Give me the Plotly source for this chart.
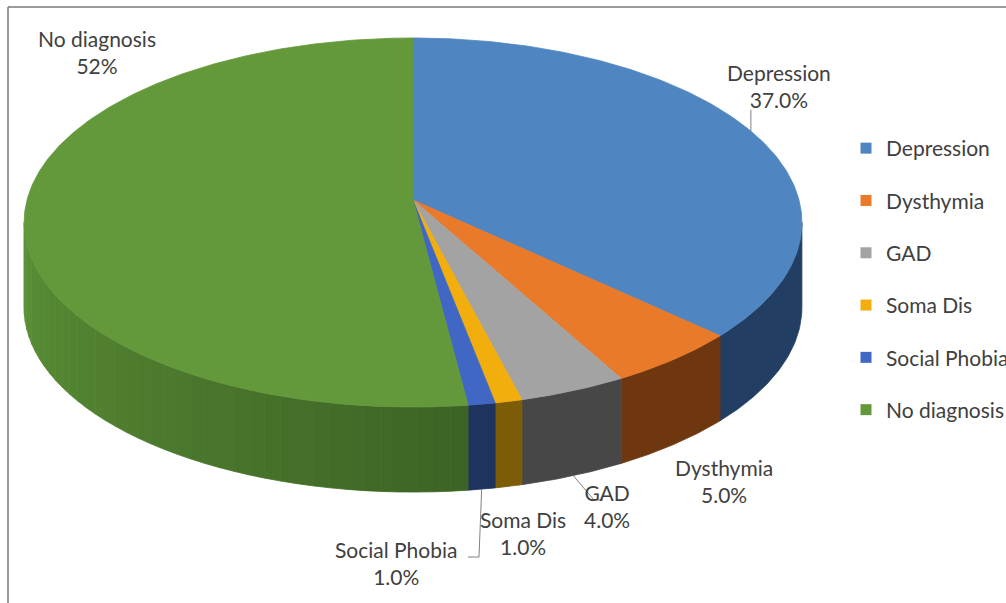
import numpy as np
import plotly.graph_objects as go

# ---------------- data ----------------
categories = ["Depression", "Dysthymia", "GAD", "Soma Dis", "Social Phobia", "No diagnosis"]
values = [37.0, 5.0, 4.0, 1.0, 1.0, 52.0]
pct_labels = ["37.0%", "5.0%", "4.0%", "1.0%", "1.0%", "52%"]

# ---------------- styles ----------------
top_colors = ["#4F85C0", "#E97A2A", "#A3A3A3", "#F2AE0C", "#3F67C3", "#64993B"]
side_colors = ["#223F63", "#6E3710", "#474747", "#7D5C08", "#1F335F", "#4B7A2D"]
green_side_grad = ("#5C9237", "#3C6324")
FONT = "Lato"
TXT = "#404040"

# pie geometry (pixel space, perspective-tilted)
CX, CY = 413, 200
A, B, K = 386, 181.8, 0.122
DEPTH = 85

# label placement (block centres) and leader elbows
label_pos = {
    "Depression": (779, 86),
    "Dysthymia": (724, 481),
    "GAD": (607, 506),
    "Soma Dis": (523, 533),
    "Social Phobia": (396, 563),
    "No diagnosis": (97, 52),
}
leaders = {
    "Depression": ("top", [(None, 110)]),
    "GAD": ("side", [(594, 500), (603, 500)]),
    "Social Phobia": ("side", [(479, 557), (468, 557)]),
}


def proj(theta_deg, drop=0.0):
    t = np.radians(np.asarray(theta_deg, dtype=float))
    u, v = np.sin(t), np.cos(t)
    w = 1 + K * v
    return CX + A * u / w, CY - B * v / w + drop


def hex2rgb(h):
    h = h.lstrip("#")
    return np.array([int(h[i:i + 2], 16) for i in (0, 2, 4)], dtype=float)


def mix(c1, c2, f):
    c = hex2rgb(c1) * (1 - f) + hex2rgb(c2) * f
    return "rgb(%d,%d,%d)" % tuple(c.round().astype(int))


total = float(sum(values))
bounds = np.concatenate([[0.0], np.cumsum(values)]) / total * 360.0
vis_lo = np.degrees(np.arccos(-K))
vis_hi = 360.0 - vis_lo

fig = go.Figure()


def add_poly(xs, ys, color):
    fig.add_trace(go.Scatter(
        x=list(xs) + [xs[0]], y=list(ys) + [ys[0]], mode="lines", fill="toself",
        fillcolor=color, line=dict(color=color, width=0.8),
        showlegend=False, hoverinfo="skip"))


# side walls (front, visible part only)
for i, cat in enumerate(categories):
    a, b = max(bounds[i], vis_lo), min(bounds[i + 1], vis_hi)
    if b <= a:
        continue
    if cat == "No diagnosis":
        n = 40
        edges = np.linspace(a, b, n + 1)
        for j in range(n):
            ts = np.linspace(edges[j], edges[j + 1], 4)
            xt, yt = proj(ts)
            xb, yb = proj(ts[::-1], DEPTH)
            f = 1 - (j + 0.5) / n
            add_poly(np.r_[xt, xb], np.r_[yt, yb], mix(green_side_grad[0], green_side_grad[1], f))
    else:
        ts = np.linspace(a, b, 60)
        xt, yt = proj(ts)
        xb, yb = proj(ts[::-1], DEPTH)
        add_poly(np.r_[xt, xb], np.r_[yt, yb], side_colors[i])

# top faces
for i, cat in enumerate(categories):
    ts = np.linspace(bounds[i], bounds[i + 1], max(8, int(values[i] * 6)))
    xt, yt = proj(ts)
    add_poly(np.r_[CX, xt], np.r_[CY, yt], top_colors[i])

# leader lines
for cat, (where, pts) in leaders.items():
    i = categories.index(cat)
    mid = (bounds[i] + bounds[i + 1]) / 2
    x0, y0 = proj(mid, DEPTH if where == "side" else 0.0)
    xs, ys = [float(x0)], [float(y0)]
    for (px, py) in pts:
        xs.append(float(x0) if px is None else px)
        ys.append(py)
    fig.add_trace(go.Scatter(x=xs, y=ys, mode="lines", line=dict(color="#808080", width=1),
                             showlegend=False, hoverinfo="skip"))

# legend entries
for i, cat in enumerate(categories):
    fig.add_trace(go.Scatter(x=[None], y=[None], mode="markers", name=cat, legendgroup=cat,
                             marker=dict(symbol="square", size=11, color=top_colors[i])))

# data labels
for i, cat in enumerate(categories):
    x, y = label_pos[cat]
    fig.add_annotation(x=x, y=y, xref="x", yref="y", text=f"{cat}<br>{pct_labels[i]}",
                       showarrow=False, xanchor="center", yanchor="middle", align="center",
                       font=dict(family=FONT, size=21, color=TXT))

# chart frame (left & top edges visible)
fig.add_shape(type="line", x0=8, x1=1006, y0=7, y1=7, xref="x", yref="y",
              line=dict(color="#7a7a7a", width=1.5))
fig.add_shape(type="line", x0=8, x1=8, y0=7, y1=603, xref="x", yref="y",
              line=dict(color="#7a7a7a", width=1.5))

fig.update_layout(
    width=1006, height=603,
    margin=dict(l=0, r=0, t=0, b=0, autoexpand=False),
    paper_bgcolor="white", plot_bgcolor="white",
    xaxis=dict(range=[0, 1006], visible=False, fixedrange=True),
    yaxis=dict(range=[603, 0], visible=False, fixedrange=True),
    showlegend=True,
    legend=dict(x=846 / 1006, y=1 - 128 / 603, xanchor="left", yanchor="top",
                font=dict(family=FONT, size=21, color=TXT),
                tracegroupgap=22, bgcolor="rgba(0,0,0,0)", borderwidth=0,
                itemwidth=30),
)

fig.write_html("out.html")
